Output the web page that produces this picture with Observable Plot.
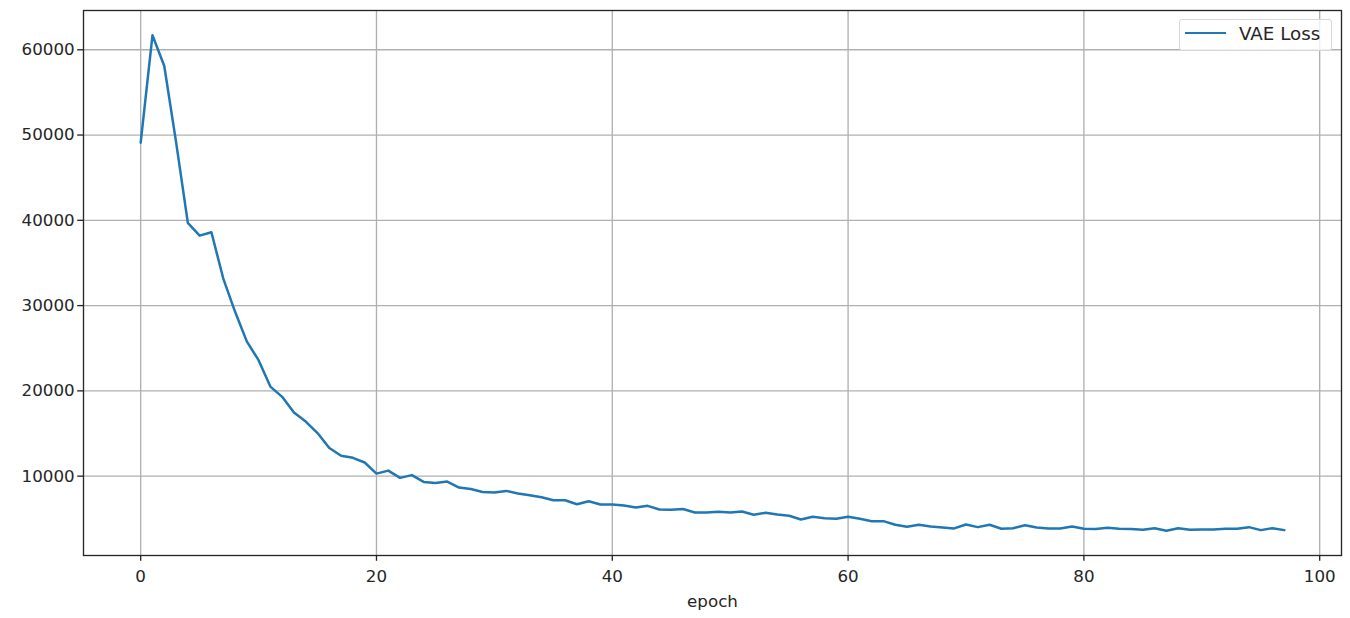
<!DOCTYPE html>
<html>
<head>
<meta charset="utf-8">
<script src="https://cdn.jsdelivr.net/npm/d3@7"></script>
<script src="https://cdn.jsdelivr.net/npm/@observablehq/plot@0.6"></script>
<style>
  html, body { margin: 0; padding: 0; background: #fff; }
  #wrap { position: relative; width: 1350px; height: 618px; font-family: "DejaVu Sans", sans-serif; }
  #legend {
    position: absolute; left: 1179px; top: 19px; width: 153px; height: 32px;
    border: 1px solid #d6d6d6; border-radius: 3px; background: rgba(255,255,255,0.8);
    box-sizing: border-box;
  }
  #legend .sw { position: absolute; left: 5px; top: 12px; width: 41px; height: 0; border-top: 2.5px solid #1f77b4; }
  #legend .lb { position: absolute; left: 59px; top: 3px; font-size: 18.3px; line-height: 22px; color: #262626; white-space: nowrap; }
</style>
</head>
<body>
<div id="wrap"></div>
<script>
// Data
const epochs = d3.range(0, 98);
const loss = [
  49100, 61700, 58100, 49200, 39700, 38200, 38600, 33200, 29300, 25800,
  23600, 20500, 19300, 17450, 16400, 15050, 13300, 12400, 12150, 11600,
  10300, 10650, 9800, 10120, 9320, 9200, 9360, 8660, 8500, 8150,
  8070, 8270, 7960, 7760, 7520, 7170, 7170, 6710, 7060, 6670,
  6670, 6550, 6320, 6520, 6090, 6050, 6150, 5740, 5740, 5820,
  5740, 5850, 5470, 5700, 5500, 5350, 4920, 5230, 5070, 5000,
  5230, 5000, 4720, 4720, 4300, 4070, 4300, 4100, 3980, 3870,
  4330, 4020, 4300, 3830, 3900, 4250, 3980, 3870, 3870, 4100,
  3830, 3790, 3950, 3830, 3790, 3710, 3900, 3600, 3900, 3710,
  3750, 3750, 3830, 3830, 4020, 3670, 3900, 3670
];
const xTicks = [0, 20, 40, 60, 80, 100];
const yTicks = [10000, 20000, 30000, 40000, 50000, 60000];
const seriesName = "VAE Loss";
const xLabel = "epoch";

const data = epochs.map((e, i) => ({epoch: e, loss: loss[i]}));

// matplotlib-like 5% margins
function padded(ext) { const m = (ext[1] - ext[0]) * 0.05; return [ext[0] - m, ext[1] + m]; }
const xDom = padded(d3.extent(epochs));
const yDom = padded(d3.extent(loss));

const FS = 16.7;
const chart = Plot.plot({
  width: 1350,
  height: 618,
  marginLeft: 83,
  marginRight: 9,
  marginTop: 10,
  marginBottom: 63,
  style: {fontFamily: "DejaVu Sans, sans-serif", fontSize: FS + "px", background: "#fff", color: "#262626"},
  x: {domain: xDom},
  y: {domain: yDom},
  marks: [
    Plot.gridX(xTicks, {stroke: "#b0b0b0", strokeOpacity: 1, strokeWidth: 1.33}),
    Plot.gridY(yTicks, {stroke: "#b0b0b0", strokeOpacity: 1, strokeWidth: 1.33}),
    Plot.line(data, {x: "epoch", y: "loss", stroke: "#1f77b4", strokeWidth: 2.5, strokeLinejoin: "round"}),
    Plot.frame({stroke: "#262626", strokeWidth: 1.33}),
    Plot.axisX(xTicks, {tickSize: 5.8, tickPadding: 9, strokeWidth: 1.33, stroke: "#262626", fill: "#262626", fontSize: FS, label: null, tickFormat: d => String(d)}),
    Plot.axisY(yTicks, {tickSize: 5.8, tickPadding: 3, strokeWidth: 1.33, stroke: "#262626", fill: "#262626", fontSize: FS, label: null, tickFormat: d => String(d)}),
    Plot.text([xLabel], {text: d => d, frameAnchor: "bottom", dy: 40, lineAnchor: "top", fontSize: FS, fill: "#262626"})
  ]
});
const wrap = document.getElementById("wrap");
wrap.appendChild(chart);
const lg = document.createElement("div");
lg.id = "legend";
lg.innerHTML = '<div class="sw"></div><div class="lb"></div>';
lg.querySelector(".lb").textContent = seriesName;
wrap.appendChild(lg);
</script>
</body>
</html>
